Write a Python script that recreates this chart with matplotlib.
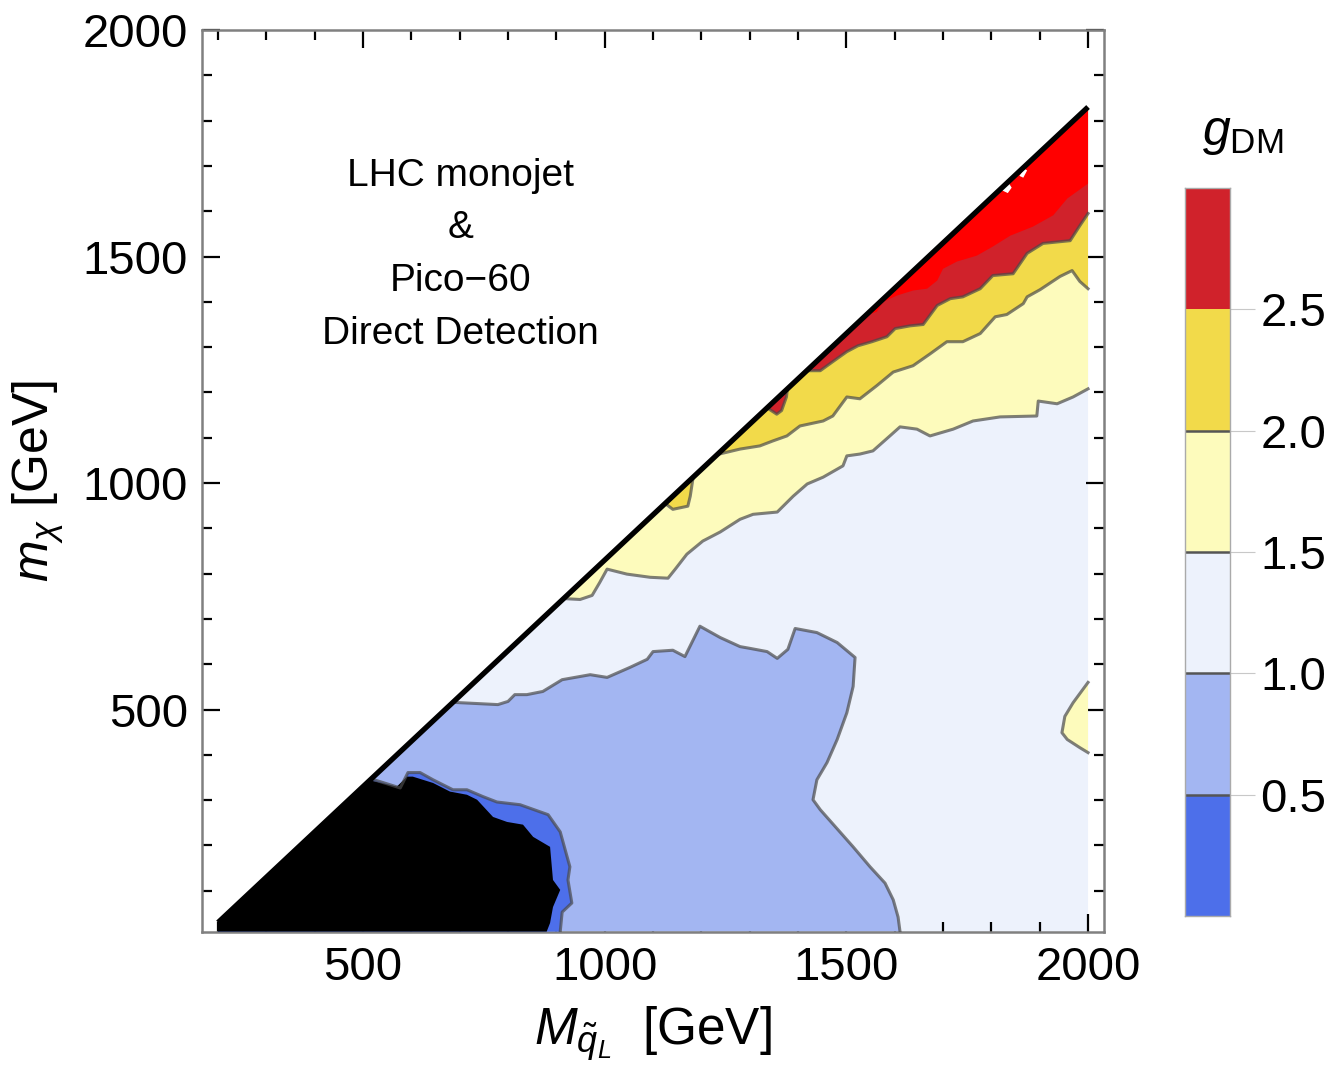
import matplotlib.pyplot as plt
from matplotlib.patches import Polygon
from matplotlib.ticker import MultipleLocator

plt.rcParams['font.family'] = ['Liberation Sans', 'DejaVu Sans']
plt.rcParams['mathtext.fontset'] = 'custom'
plt.rcParams['mathtext.rm'] = 'Liberation Sans'
plt.rcParams['mathtext.it'] = 'Liberation Sans:italic'

# contour levels and fill colours (g_DM)
levels = [0.0, 0.5, 1.0, 1.5, 2.0, 2.5, 3.0]
colors = ['#4d6fea', '#a3b6f2', '#edf2fc', '#fdfbbc', '#f2da4a', '#d0222b']
over_color = '#ff0000'

# kinematic boundary m_chi = M - 170
diag_x = [200, 2000]
diag_y = [30, 1830]
y_floor = 10

# g = 0.5 contour (outer edge of dark blue rim)
c05_x = [517, 577, 593, 618, 645, 686, 715, 748, 777, 825, 883, 908, 928, 924, 932, 912, 908]
c05_y = [347, 327, 361, 361, 345, 323, 323, 308, 296, 290, 268, 230, 153, 124, 73, 53, 10]

# excluded (black) region boundary
excl_x = [514, 570, 591, 603, 645, 680, 715, 736, 769, 798, 831, 852, 887, 893, 908, 893, 887, 880]
excl_y = [344, 330, 352, 352, 338, 319, 312, 301, 263, 252, 246, 219, 197, 124, 102, 64, 29, 10]

# g = 1.0 contour
c10_x = [686, 742, 779, 800, 814, 839, 872, 912, 970, 1005, 1052, 1088, 1100, 1141, 1166, 1197,
         1239, 1280, 1301, 1336, 1357, 1379, 1394, 1439, 1481, 1518, 1514, 1501, 1481, 1460,
         1439, 1431, 1446, 1514, 1549, 1580, 1597, 1607, 1611]
c10_y = [516, 513, 511, 518, 533, 533, 540, 566, 577, 571, 593, 611, 628, 631, 617, 684,
         659, 639, 635, 628, 613, 633, 679, 670, 648, 615, 551, 493, 434, 383,
         345, 301, 279, 197, 153, 117, 80, 42, 10]

# g = 1.5 contour
c15_x = [915, 949, 974, 990, 1005, 1046, 1094, 1131, 1146, 1170, 1203, 1239, 1280, 1307, 1357,
         1390, 1419, 1452, 1493, 1501, 1528, 1555, 1590, 1611, 1646, 1673, 1721, 1762, 1818,
         1894, 1897, 1936, 1969, 2000]
c15_y = [745, 743, 752, 781, 810, 799, 792, 790, 810, 843, 872, 892, 920, 931, 936,
         971, 998, 1013, 1038, 1060, 1064, 1071, 1104, 1124, 1119, 1104, 1119, 1137, 1146,
         1148, 1181, 1175, 1190, 1208]
# g = 1.5 island at the right edge
i15_x = [2000, 1969, 1952, 1946, 1957, 1983, 2000]
i15_y = [560, 515, 485, 449, 434, 416, 405]

# g = 2.0 contour
c20_x = [1233, 1280, 1321, 1348, 1377, 1404, 1452, 1472, 1501, 1528, 1563, 1597, 1638, 1673,
         1708, 1741, 1777, 1808, 1832, 1866, 1874, 1901, 1942, 1967, 1983, 2000]
c20_y = [1063, 1075, 1082, 1093, 1104, 1126, 1137, 1148, 1190, 1186, 1215, 1245, 1259, 1285,
         1312, 1312, 1330, 1367, 1372, 1396, 1411, 1427, 1456, 1469, 1445, 1429]
# g = 2.0 island on the boundary
i20_x = [1125, 1141, 1172, 1177, 1183]
i20_y = [955, 942, 949, 971, 1013]

# g = 2.5 contour
c25_x = [1418, 1446, 1472, 1501, 1524, 1553, 1584, 1601, 1632, 1659, 1688, 1715, 1741, 1777,
         1803, 1845, 1874, 1907, 1963, 1983, 2000]
c25_y = [1248, 1248, 1268, 1290, 1303, 1312, 1323, 1341, 1347, 1350, 1392, 1407, 1411, 1429,
         1458, 1462, 1507, 1529, 1535, 1568, 1595]
# g = 2.5 island on the boundary
i25_x = [1336, 1356, 1366, 1376, 1378]
i25_y = [1166, 1152, 1160, 1190, 1208]

# g = 3.0 contour (above colour range)
c30_x = [1540, 1563, 1576, 1605, 1638, 1667, 1688, 1700, 1729, 1770, 1803, 1839, 1886, 1928, 1957, 2000]
c30_y = [1370, 1378, 1400, 1414, 1425, 1429, 1447, 1473, 1489, 1502, 1522, 1546, 1566, 1591, 1628, 1661]

# small unfilled specks just below the boundary
speck1_x = [1822, 1834, 1842, 1836, 1826]
speck1_y = [1646, 1640, 1652, 1662, 1656]
speck2_x = [1858, 1866, 1874, 1868]
speck2_y = [1678, 1674, 1690, 1694]

annotation = 'LHC monojet\n&\nPico\u221260\nDirect Detection'


fig = plt.figure(figsize=(13.25, 10.83), dpi=100)
ax = fig.add_axes([0.1525, 0.1394, 0.6807, 0.8329])


def add_poly(xs, ys, color, z):
    ax.add_patch(Polygon(list(zip(xs, ys)), closed=True, facecolor=color,
                         edgecolor='none', zorder=z))


top = (diag_x[1], diag_y[1])
left = (diag_x[0], diag_y[0])

# base region 1.0 - 1.5
add_poly([left[0], top[0], 2000, left[0]], [left[1], top[1], y_floor, y_floor], colors[2], 1)
# below 1.0
add_poly(c10_x + [left[0], left[0]], c10_y + [y_floor, left[1]], colors[1], 2)
# below 0.5
add_poly(c05_x + [left[0], left[0]], c05_y + [y_floor, left[1]], colors[0], 3)
# excluded region
add_poly(excl_x + [left[0], left[0]], excl_y + [y_floor, left[1]], 'black', 4)
# above 1.5
add_poly(c15_x + [top[0]], c15_y + [top[1]], colors[3], 2)
add_poly(i15_x, i15_y, colors[3], 2)
# above 2.0
add_poly(c20_x + [top[0]], c20_y + [top[1]], colors[4], 3)
add_poly(i20_x, i20_y, colors[4], 3)
# above 2.5
add_poly(c25_x + [top[0]], c25_y + [top[1]], colors[5], 4)
add_poly(i25_x, i25_y, colors[5], 4)
# above 3.0
add_poly(c30_x + [top[0]], c30_y + [top[1]], over_color, 5)
add_poly(speck1_x, speck1_y, 'white', 6)
add_poly(speck2_x, speck2_y, 'white', 6)

# contour lines
line_kw = dict(color='#4a4a4a', lw=2.2, alpha=0.7, zorder=7, solid_joinstyle='round')
for xs, ys in [(c05_x, c05_y), (c10_x, c10_y), (c15_x, c15_y), (i15_x, i15_y),
               (c20_x, c20_y), (i20_x, i20_y), (c25_x, c25_y), (i25_x, i25_y)]:
    ax.plot(xs, ys, **line_kw)

ax.plot(diag_x, diag_y, color='black', lw=3.8, zorder=8, solid_capstyle='butt')

ax.set_xlim(167, 2033)
ax.set_ylim(9, 2000)
ax.xaxis.set_major_locator(MultipleLocator(500))
ax.xaxis.set_minor_locator(MultipleLocator(100))
ax.yaxis.set_major_locator(MultipleLocator(500))
ax.yaxis.set_minor_locator(MultipleLocator(100))
ax.tick_params(which='both', direction='in', top=True, right=True, colors='black',
               labelsize=34, width=1.6)
ax.tick_params(which='major', length=13, pad=10)
ax.tick_params(which='minor', length=7)
for sp in ax.spines.values():
    sp.set_color('#808080')
    sp.set_linewidth(1.8)

ax.set_xlabel(r'$M_{\tilde{q}_L}$  [GeV]', fontsize=37, labelpad=10)
ax.set_ylabel(r'$m_\chi$ [GeV]', fontsize=36, labelpad=12)

ax.text(701, 1504, annotation, ha='center', va='center', fontsize=28,
        linespacing=1.6, zorder=9)

# colour bar
cax = fig.add_axes([0.8943, 0.1542, 0.034, 0.6722])
for i in range(len(colors)):
    cax.axhspan(levels[i], levels[i + 1], color=colors[i], lw=0)
for lv in levels[1:-2]:
    cax.axhline(lv, color='#555555', lw=1.8)
cax.set_xlim(0, 1)
cax.set_ylim(levels[0], levels[-1])
cax.set_xticks([])
cax.yaxis.tick_right()
cax.set_yticks(levels[1:-1])
cax.set_yticklabels(['%.1f' % v for v in levels[1:-1]])
cax.tick_params(axis='y', direction='out', length=18, width=0.8, color='#c8c8c8',
                labelsize=34, pad=4)
for sp in cax.spines.values():
    sp.set_color('#aaaaaa')
    sp.set_linewidth(1.0)
fig.text(0.938, 0.876, r'$g_{\rm DM}$', fontsize=36, ha='center', va='center')

fig.savefig('out.png', dpi=100)
